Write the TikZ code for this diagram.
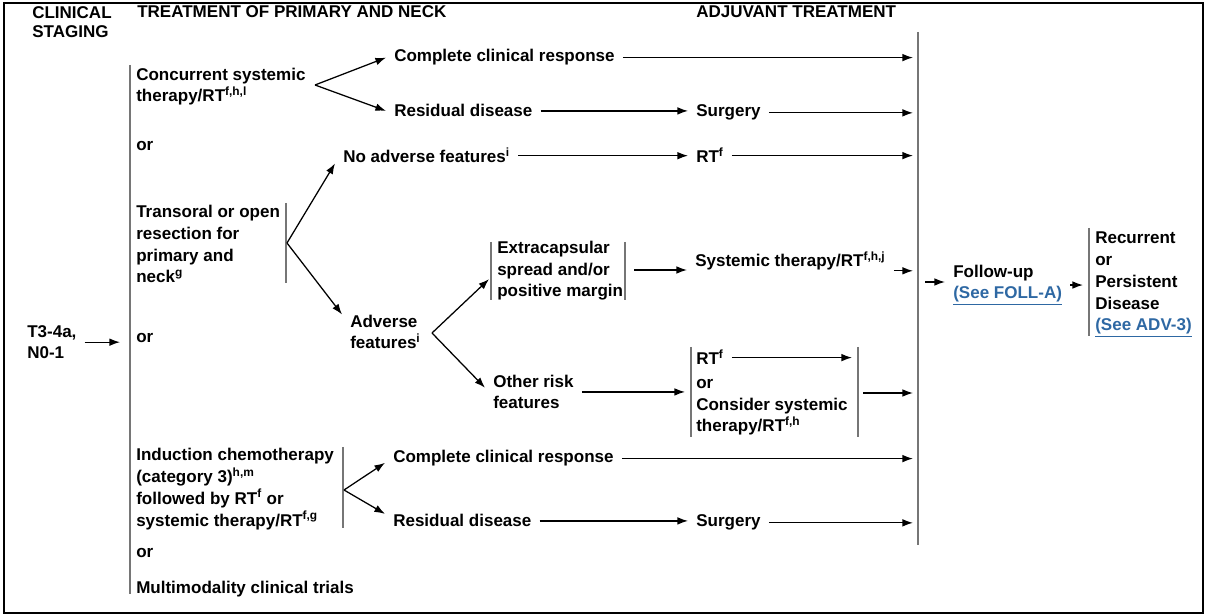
\documentclass[tikz,border=0pt]{standalone}
\usepackage{fontspec}
\setmainfont{Liberation Sans}
\usetikzlibrary{arrows.meta, positioning, calc}
\definecolor{bargray}{RGB}{118,118,118}
\definecolor{linkblue}{RGB}{46,104,163}
\newcommand{\lnk}[1]{\textcolor{linkblue}{\underline{#1}}}

\begin{document}
\begin{tikzpicture}[x=0.025cm, y=-0.025cm,
  txt/.style={font=\fontsize{12.1pt}{15.6pt}\selectfont\bfseries, align=left,
              inner xsep=0.2cm, inner ysep=0pt, anchor=base west},
  hdr/.style={font=\fontsize{12.1pt}{14.2pt}\selectfont\bfseries, align=left,
              inner sep=0pt, anchor=base west},
  arr/.style={-{Latex[length=7.5pt, width=5.4pt]}, line width=0.9pt},
  bar/.style={draw=bargray, line width=1.4pt},
]
\useasboundingbox (0,0) rectangle (1206,616);
\draw[line width=2pt] (4,3) rectangle (1203,613);

% column headings (base = last line)
\node[hdr] (hstage) at (32,38) {CLINICAL\\STAGING};
\node[hdr] (hprim) at (137,18) {TREATMENT OF PRIMARY AND NECK};
\node[hdr] (hadj) at (696,18) {ADJUVANT TREATMENT};

% staging and primary options
\node[txt] (stage) at (19,359) {T3-4a,\\N0-1};
\node[txt] (conc) at (128,102) {Concurrent systemic\\therapy/RT\textsuperscript{f,h,l}};
\node[txt] (or1) at (128,151) {or};
\node[txt] (trans) at (128,283) {Transoral or open\\resection for\\primary and\\neck\textsuperscript{g}};
\node[txt] (or2) at (128,343) {or};
\node[txt] (induc) at (128,526) {Induction chemotherapy\\(category 3)\textsuperscript{h,m}\\followed by RT\textsuperscript{f} or\\systemic therapy/RT\textsuperscript{f,g}};
\node[txt] (or3) at (128,557) {or};
\node[txt] (multi) at (128,593) {Multimodality clinical trials};

% brackets
\draw[bar] (130,65) -- (130,594);
\draw[bar] (286,203) -- (286,283);
\draw[bar] (343,447) -- (343,528);
\draw[bar] (491,242) -- (491,300);
\draw[bar] (625,242) -- (625,300);
\draw[bar] (691,347) -- (691,437);
\draw[bar] (858,347) -- (858,437);
\draw[bar] (918,32) -- (918,545);
\draw[bar] (1089,228) -- (1089,336);

% branch points and arrow ends
\coordinate (mainin) at (120,0);
\coordinate (concfork) at (315,85);
\coordinate (transfork) at (287,243);
\coordinate (advfork) at (432,333);
\coordinate (indfork) at (344,490);
\coordinate (extraout) at (634,270);
\coordinate (rtin) at (685,0);
\coordinate (rtrin) at (852,0);
\coordinate (rtout) at (863,393);
\coordinate (adjin) at (913,0);
\coordinate (fuin) at (925,282);
\coordinate (recin) at (1083,0);

% responses and adjuvant steps
\node[txt] (ccr1) at (386,62) {Complete clinical response};
\node[txt] (res1) at (386,117) {Residual disease};
\node[txt] (surg1) at (688,117) {Surgery};
\node[txt] (noadv) at (335,163) {No adverse features\textsuperscript{i}};
\node[txt] (rt1) at (688,163) {RT\textsuperscript{f}};
\node[txt] (adv) at (342,349) {Adverse\\features\textsuperscript{i}};
\node[txt] (extra) at (489,297) {Extracapsular\\spread and/or\\positive margin};
\node[txt] (sysrt) at (687,267) {Systemic therapy/RT\textsuperscript{f,h,j}};
\node[txt] (other) at (485,409) {Other risk\\features};
\node[txt] (rt2) at (688,365) {RT\textsuperscript{f}};
\node[txt] (rtalt) at (688,432) {or\\Consider systemic\\therapy/RT\textsuperscript{f,h}};
\node[txt] (ccr2) at (385,463) {Complete clinical response};
\node[txt] (res2) at (385,527) {Residual disease};
\node[txt] (surg2) at (688,527) {Surgery};

% follow-up
\node[txt] (follow) at (945,299) {Follow-up\\\lnk{(See FOLL-A)}};
\node[txt] (recur) at (1087,331) {Recurrent\\or\\Persistent\\Disease\\\lnk{(See ADV-3)}};

% arrows
\draw[arr] (stage.east) -- (stage.east -| mainin);
\draw[arr] (concfork) -- (ccr1.west);
\draw[arr] (concfork) -- (res1.west);
\draw[arr] (ccr1.east) -- (ccr1.east -| adjin);
\draw[arr] (res1.east) -- (res1.east -| surg1.west);
\draw[arr] (surg1.east) -- (surg1.east -| adjin);
\draw[arr] (transfork) -- (noadv.south west);
\draw[arr] (transfork) -- (adv.north west);
\draw[arr] (noadv.east) -- (noadv.east -| rt1.west);
\draw[arr] (rt1.east) -- (rt1.east -| adjin);
\draw[arr] (advfork) -- ([yshift=-6pt]extra.west);
\draw[arr] (advfork) -- ([yshift=3pt]other.west);
\draw[arr] (extraout) -- (extraout -| sysrt.west);
\draw[arr] (sysrt.south east) -- (sysrt.south east -| adjin);
\draw[arr] (other.east) -- (other.east -| rtin);
\draw[arr] (rt2.east) -- (rt2.east -| rtrin);
\draw[arr] (rtout) -- (rtout -| adjin);
\draw[arr] (indfork) -- ([yshift=-3pt]ccr2.west);
\draw[arr] (indfork) -- ([yshift=5pt]res2.west);
\draw[arr] (ccr2.east) -- (ccr2.east -| adjin);
\draw[arr] (res2.east) -- (res2.east -| surg2.west);
\draw[arr] (surg2.east) -- (surg2.east -| adjin);
\draw[arr] (fuin) -- (fuin -| follow.west);
\draw[arr] (follow.east) -- (follow.east -| recin);
\end{tikzpicture}
\end{document}
